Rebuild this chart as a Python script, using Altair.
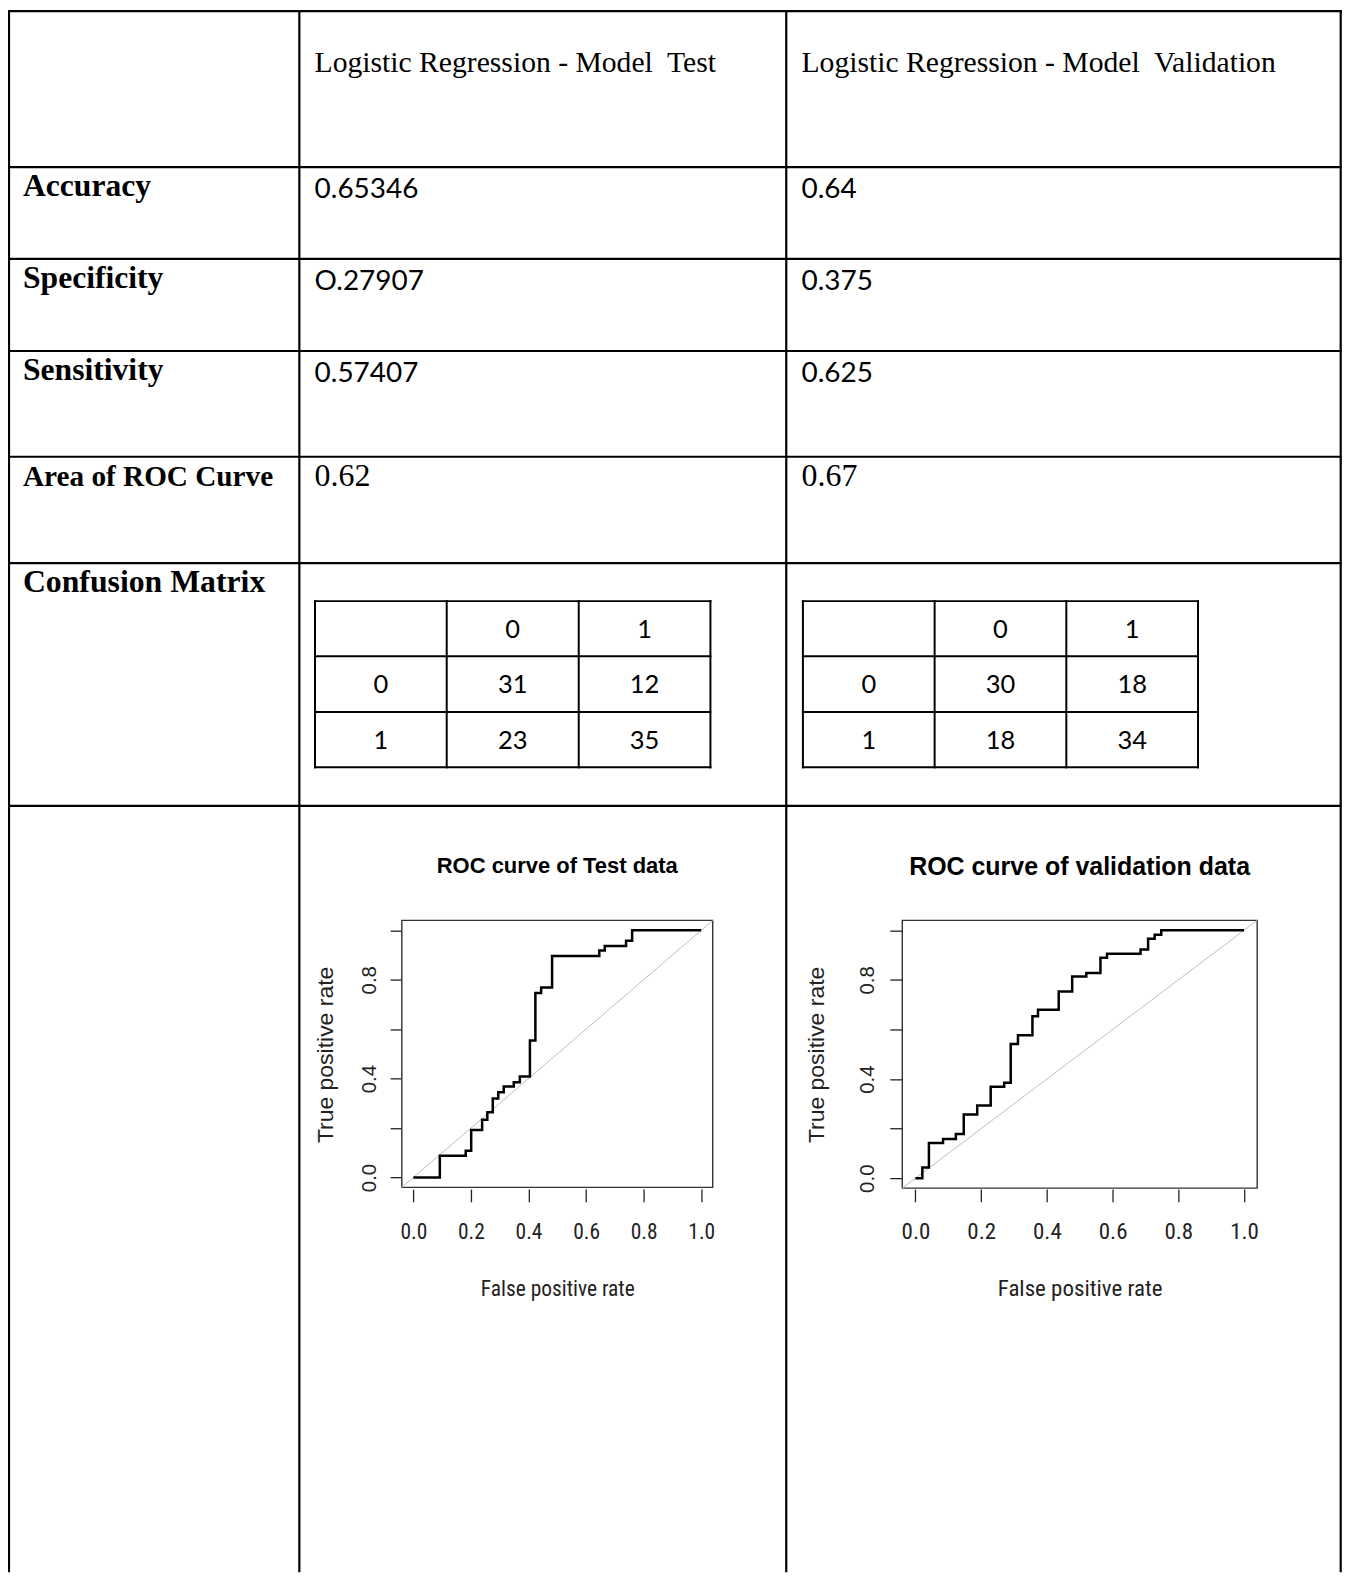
import altair as alt
import pandas as pd

# ---------------- data ----------------
header_labels = ["Logistic Regression - Model\u00a0 Test",
                 "Logistic Regression - Model\u00a0 Validation"]
row_labels = ["Accuracy", "Specificity", "Sensitivity",
              "Area of ROC Curve", "Confusion Matrix"]
test_values = ["0.65346", "O.27907", "0.57407", "0.62"]
val_values = ["0.64", "0.375", "0.625", "0.67"]
cm_labels = ["0", "1"]
test_cm = [[31, 12], [23, 35]]
val_cm = [[30, 18], [18, 34]]
roc_titles = ["ROC curve of Test data", "ROC curve of validation data"]
x_title = "False positive rate"
y_title = "True positive rate"
tick_values = [0.0, 0.2, 0.4, 0.6, 0.8, 1.0]
plot_limits = [-0.04, 1.04]

test_fpr = [0.0, 0.092, 0.182, 0.201, 0.239, 0.257, 0.276, 0.295, 0.314, 0.349,
            0.370, 0.405, 0.424, 0.444, 0.482, 0.646, 0.665, 0.739, 0.760, 1.0]
test_tpr = [0.0, 0.088, 0.108, 0.192, 0.234, 0.264, 0.320, 0.345, 0.368, 0.385,
            0.409, 0.554, 0.746, 0.769, 0.896, 0.918, 0.936, 0.958, 1.0, 1.0]
val_fpr = [0.0, 0.021, 0.041, 0.084, 0.123, 0.147, 0.188, 0.229, 0.270, 0.290,
           0.312, 0.356, 0.373, 0.436, 0.477, 0.520, 0.563, 0.583, 0.685, 0.708,
           0.728, 0.748, 1.0]
val_tpr = [0.0, 0.043, 0.142, 0.158, 0.178, 0.257, 0.293, 0.369, 0.385, 0.541,
           0.577, 0.653, 0.680, 0.753, 0.814, 0.828, 0.889, 0.905, 0.923, 0.966,
           0.982, 1.0, 1.0]

# ---------------- layout (pixels in chart space) ----------------
W, H = 1338, 1566
COLS = [1.0, 292.0, 780.0, 1335.7]
ROWS = [1.3, 157.7, 249.7, 342.0, 448.0, 554.7, 798.0]
ROW_LABEL_SIZES = [31.7, 31.7, 31.7, 29.3, 31.8]
CM_X = [[307.7, 439.7, 572.0, 704.0], [796.7, 928.7, 1060.7, 1192.7]]
CM_Y = [592.7, 648.0, 703.7, 759.3]
FRAMES = [
    dict(L=394.7, R=706.3, T=912.7, B=1180.3, ax_x=394.0, ytick=11, ypad=14.7,
         ytitle_x=-68.7, title_x=550.5, title_y=865, title_size=22, lab_size=21.5,
         xtitle_size=21.5),
    dict(L=896.3, R=1252.0, T=912.7, B=1181.0, ax_x=896.3, ytick=12.5, ypad=16.8,
         ytitle_x=-79.3, title_x=1074.0, title_y=867, title_size=25, lab_size=23,
         xtitle_size=23),
]
AX_Y = 1182.0
XTICK = 12.7
XLAB_BASE = 1232.0
XTITLE_BASE = 1288.7
YTITLE_Y = 1047.0

SERIF = "Liberation Serif"
CAL = "Lato"
SANS = "Liberation Sans"
NARROW = "'Liberation Sans Narrow', 'Roboto Condensed', 'Arial Narrow', 'Liberation Sans', sans-serif"
INK = "#222222"


def px(field):
    return alt.X(f"{field}:Q", axis=None,
                 scale=alt.Scale(domain=[0, W], range=[0, W], nice=False, zero=False))


def py(field):
    return alt.Y(f"{field}:Q", axis=None,
                 scale=alt.Scale(domain=[0, H], range=[0, H], nice=False, zero=False))


def rule_layer(df, width):
    return alt.Chart(df).mark_rule(strokeWidth=width, color="black").encode(
        x=px("x"), x2="x2:Q", y=py("y"), y2="y2:Q")


def text_layer(df, font, size, weight="normal", align="left"):
    enc = dict(x=px("x"), y=py("y"), text="t:N")
    if "fs" in df.columns:
        enc["size"] = alt.Size("fs:Q", scale=None, legend=None)
    return alt.Chart(df).mark_text(font=font, fontSize=size, fontWeight=weight,
                                   align=align, baseline="alphabetic",
                                   color="black").encode(**enc)


layers = []

# ---- main table grid ----
segs = []
for yy in ROWS:
    segs.append(dict(x=COLS[0] - 1, x2=COLS[-1] + 1, y=yy, y2=yy))
for xx in COLS:
    segs.append(dict(x=xx, x2=xx, y=ROWS[0] - 1, y2=H))
layers.append(rule_layer(pd.DataFrame(segs), 2.2))

# ---- confusion matrix grids ----
cm_segs = []
for xs in CM_X:
    for yy in CM_Y:
        cm_segs.append(dict(x=xs[0] - 1, x2=xs[-1] + 1, y=yy, y2=yy))
    for xx in xs:
        cm_segs.append(dict(x=xx, x2=xx, y=CM_Y[0] - 1, y2=CM_Y[-1] + 1))
layers.append(rule_layer(pd.DataFrame(cm_segs), 2.0))

# ---- row labels (bold serif) ----
lab_rows = [dict(x=COLS[0] + 14, y=ROWS[i + 1] + 29, t=t, fs=ROW_LABEL_SIZES[i])
            for i, t in enumerate(row_labels)]
layers.append(text_layer(pd.DataFrame(lab_rows), SERIF, 31.5, weight="bold"))

# ---- column headers (serif) ----
hdr = [dict(x=COLS[j + 1] + 15.3, y=ROWS[0] + 60.7, t=t) for j, t in enumerate(header_labels)]
layers.append(text_layer(pd.DataFrame(hdr), SERIF, 29.7))

# ---- metric values ----
cal_vals, serif_vals = [], []
for j, vals in enumerate([test_values, val_values]):
    for i, v in enumerate(vals):
        if i < 3:
            cal_vals.append(dict(x=COLS[j + 1] + 15.3, y=ROWS[i + 1] + 31, t=v))
        else:
            serif_vals.append(dict(x=COLS[j + 1] + 15.3, y=ROWS[i + 1] + 29.5, t=v))
layers.append(text_layer(pd.DataFrame(cal_vals), CAL, 28))
layers.append(text_layer(pd.DataFrame(serif_vals), SERIF, 32))

# ---- confusion matrix numbers ----
CM_FS = 25.5
cm_txt = []
for k, (xs, cm) in enumerate(zip(CM_X, [test_cm, val_cm])):
    cx = [(xs[c] + xs[c + 1]) / 2 for c in range(3)]
    cy = [(CM_Y[r] + CM_Y[r + 1]) / 2 + 0.35 * CM_FS for r in range(3)]
    for c in range(2):
        cm_txt.append(dict(x=cx[c + 1], y=cy[0], t=cm_labels[c]))
    for r in range(2):
        cm_txt.append(dict(x=cx[0], y=cy[r + 1], t=cm_labels[r]))
        for c in range(2):
            cm_txt.append(dict(x=cx[c + 1], y=cy[r + 1], t=str(cm[r][c])))
layers.append(text_layer(pd.DataFrame(cm_txt), CAL, CM_FS, align="center"))


# ---- ROC plots ----
def roc_layers(fpr, tpr, title, f):
    xs = alt.Scale(domain=plot_limits, range=[f["L"], f["R"]], nice=False, zero=False)
    ys = alt.Scale(domain=plot_limits, range=[f["B"], f["T"]], nice=False, zero=False)
    out = []
    frame_df = pd.DataFrame({"x": [plot_limits[0]], "x2": [plot_limits[1]],
                             "y": [plot_limits[0]], "y2": [plot_limits[1]]})
    out.append(alt.Chart(frame_df).mark_rect(fillOpacity=0, stroke="#333333",
                                             strokeWidth=1.4).encode(
        x=alt.X("x:Q", scale=xs, axis=None), x2="x2:Q",
        y=alt.Y("y:Q", scale=ys, axis=None), y2="y2:Q"))
    diag_df = pd.DataFrame({"x": plot_limits, "y": plot_limits})
    out.append(alt.Chart(diag_df).mark_line(color="#bebebe", strokeWidth=1).encode(
        x=alt.X("x:Q", scale=xs, axis=None), y=alt.Y("y:Q", scale=ys, axis=None)))
    xaxis = alt.Axis(orient="bottom", offset=AX_Y - H, values=tick_values, format=".1f",
                     grid=False, domain=False, tickSize=XTICK, tickWidth=1.3,
                     tickColor=INK, labelFont=NARROW, labelFontSize=f["lab_size"],
                     labelColor=INK, labelBaseline="alphabetic", labelAlign="center",
                     labelPadding=XLAB_BASE - AX_Y - XTICK, labelFlush=False,
                     labelOverlap=False, title=x_title, titleFont=NARROW,
                     titleFontSize=f["xtitle_size"], titleFontWeight="normal",
                     titleColor=INK, titleX=f["title_x"], titleY=XTITLE_BASE - AX_Y,
                     titleAlign="center", titleBaseline="alphabetic")
    yaxis = alt.Axis(orient="left", offset=-f["ax_x"], values=tick_values, format=".1f",
                     labelExpr="abs((datum.value * 10) % 4) < 0.01 ? datum.label : ''",
                     grid=False, domain=False, tickSize=f["ytick"], tickWidth=1.3,
                     tickColor=INK, labelFont=SANS, labelFontSize=20.5, labelColor=INK,
                     labelAngle=270, labelAlign="center", labelBaseline="alphabetic",
                     labelPadding=f["ypad"], labelFlush=False, labelOverlap=False,
                     title=y_title, titleFont=SANS, titleFontSize=23,
                     titleFontWeight="normal", titleColor=INK, titleAngle=270,
                     titleX=f["ytitle_x"], titleY=YTITLE_Y, titleAlign="center",
                     titleBaseline="alphabetic")
    curve_df = pd.DataFrame({"fpr": fpr, "tpr": tpr})
    out.append(alt.Chart(curve_df).mark_line(interpolate="step-after", color="black",
                                             strokeWidth=2.5).encode(
        x=alt.X("fpr:Q", scale=xs, axis=xaxis),
        y=alt.Y("tpr:Q", scale=ys, axis=yaxis)))
    tdf = pd.DataFrame([dict(x=f["title_x"], y=f["title_y"], t=title)])
    out.append(text_layer(tdf, SANS, f["title_size"], weight="bold", align="center"))
    return out


layers += roc_layers(test_fpr, test_tpr, roc_titles[0], FRAMES[0])
layers += roc_layers(val_fpr, val_tpr, roc_titles[1], FRAMES[1])

chart = alt.layer(*layers).resolve_scale(x="independent", y="independent").properties(
    width=W, height=H, padding=0, background="white",
    autosize=alt.AutoSizeParams(type="none"),
).configure_view(strokeWidth=0)

chart.save("out.html", embed_options={"renderer": "svg", "actions": False})
